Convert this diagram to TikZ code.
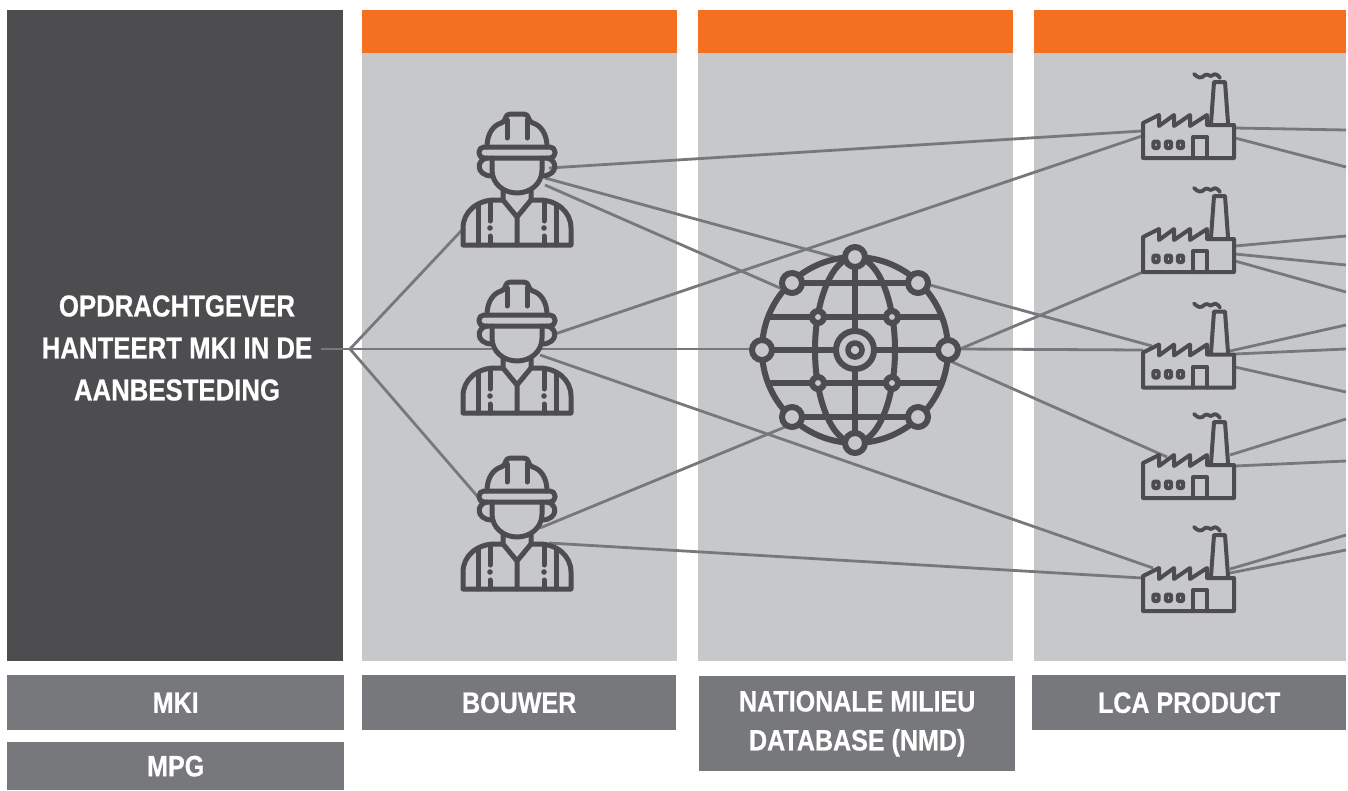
\documentclass[tikz,border=0pt]{standalone}
\usepackage{fontspec}
\setmainfont[FakeStretch=0.85,BoldFeatures={FakeBold=0.6}]{Liberation Sans}
\usepackage{xcolor}
\definecolor{darkpanel}{HTML}{4D4D4F}
\definecolor{lightpanel}{HTML}{C7C8CA}
\definecolor{labelgrey}{HTML}{77787B}
\definecolor{topbar}{HTML}{F37021}

\begin{document}
\begin{tikzpicture}[x=1pt, y=-1pt,
      panel/.style={fill=lightpanel, anchor=north west, inner sep=0pt, minimum width=315pt, minimum height=651pt},
      bar/.style={fill=topbar, anchor=north west, inner sep=0pt, minimum width=315pt, minimum height=43pt},
      tag/.style={fill=labelgrey, text=white, font=\bfseries\fontsize{29.5}{39}\selectfont, align=center, anchor=north west, inner sep=0pt, minimum width=314pt, minimum height=55pt},
      link/.style={draw=labelgrey, line width=2.8pt},
      icon/.style={draw=darkpanel, line width=5pt, line cap=round, line join=round},
      worker/.pic={
        \draw[icon, rounded corners=4pt] (-30,-33) .. controls (-30,-47) and (-23,-55) .. (-12,-58) -- (-11,-66) -- (11,-66) -- (12,-58) .. controls (23,-55) and (30,-47) .. (30,-33);
        \draw[icon] (-10,-60) -- (-10,-42) (10,-60) -- (10,-42);
        \draw[icon, rounded corners=5pt] (-38,-33) rectangle (38,-22);
        \draw[icon] (-30,-22) .. controls (-41,-20) and (-41,-5) .. (-26,-4);
        \draw[icon] (30,-22) .. controls (41,-20) and (41,-5) .. (26,-4);
        \draw[icon] (-25,-22) -- (-25,-10) .. controls (-25,4) and (-13,13) .. (0,13) .. controls (13,13) and (25,4) .. (25,-10) -- (25,-22);
        \draw[icon] (-14,10) -- (-14,20) -- (0,37) -- (14,20) -- (14,10) (0,37) -- (0,65);
        \draw[icon] (-14,20) -- (-22,20) .. controls (-40,20) and (-54,32) .. (-54,48) -- (-54,65) -- (54,65) -- (54,48) .. controls (54,32) and (40,20) .. (22,20) -- (14,20);
        \foreach \sx in {-1,1} {
          \draw[icon] (\sx*39,25) -- (\sx*39,65);
          \draw[icon] (\sx*27,23) -- (\sx*27,41) (\sx*27,56) -- (\sx*27,65);
          \fill[darkpanel] (\sx*27,48) circle (2.8pt);
        }
      },
      factory/.pic={
        \draw[icon, line width=4pt] (0,0) -- (0,-35) -- (16,-43) -- (16,-32) -- (31,-43) -- (31,-32) -- (47,-43) -- (47,-32) -- (64,-43) -- (64,-33) -- (91,-33) -- (91,0) -- cycle;
        \draw[icon, line width=4pt] (68,-35) -- (71,-76) -- (82,-76) -- (85,-35);
        \draw[icon, line width=4pt] (50,0) -- (50,-21) -- (64,-21) -- (64,0);
        \draw[icon, line width=3.8pt] (51,-84) .. controls (55,-80) and (58,-79) .. (62,-83) .. controls (65,-85) and (67,-80) .. (70,-83) .. controls (72,-85) and (75,-83) .. (77,-80);
        \foreach \wx in {13,25.5,37.5}
          \draw[icon, line width=4pt, rounded corners=1pt] (\wx-2.6,-16.5) rectangle (\wx+2.6,-10);
      },
      globe/.pic={
        \draw[icon, line width=6pt, fill=lightpanel] (0,0) circle (93pt);
        \draw[icon, line width=6pt] (0,0) ellipse (40pt and 93pt);
        \draw[icon, line width=6pt, line cap=butt] (-64,-67) -- (64,-67) (-64,67) -- (64,67) (-85,-33) -- (85,-33) (-85,33) -- (85,33) (-93,0) -- (93,0) (0,-93) -- (0,93);
        \draw[icon, line width=6pt, fill=lightpanel] (0,0) circle (19pt);
        \draw[icon, line width=5.6pt, fill=lightpanel] (0,0) circle (7pt);
        \foreach \nx/\ny in {0/-93, 0/93, -93/0, 93/0, -63/-67, 63/-67, -63/67, 63/67}
          \draw[icon, line width=6pt, fill=lightpanel] (\nx,\ny) circle (10pt);
        \foreach \nx/\ny in {-37/-33, 37/-33, -37/33, 37/33}
          \draw[icon, line width=6pt, fill=lightpanel] (\nx,\ny) circle (6pt);
      }]
    \useasboundingbox (0,0) rectangle (1348,790);

    % columns
    \node[panel, fill=darkpanel, minimum width=336pt] (client) at (7,10) {};
    \node[panel] (builder) at (362,10) {};
    \node[panel] (nmdcol) at (698,10) {};
    \node[panel, minimum width=312pt] (lcacol) at (1034,10) {};
    \node[bar] (barb) at (362,10) {};
    \node[bar] (barn) at (698,10) {};
    \node[bar, minimum width=312pt] (barl) at (1034,10) {};

    % captions
    \node[tag, minimum width=337pt] (mki) at (7,675) {MKI};
    \node[tag, minimum width=337pt, minimum height=48pt] (mpg) at (7,742) {MPG};
    \node[tag] (bouwer) at (362,675) {BOUWER};
    \node[tag, minimum width=316pt, minimum height=95pt] (nmd) at (699,676) {NATIONALE MILIEU\\DATABASE (NMD)};
    \node[tag] (lca) at (1032,675) {LCA PRODUCT};
    \node[text=white, font=\bfseries\fontsize{30.3}{42}\selectfont, align=center] (brief) at (177,348) {OPDRACHTGEVER\\HANTEERT MKI IN DE\\AANBESTEDING};

    % line ends
    \foreach \name/\pos in {start/{321,349}, hub/{350,349},
        wa/{462,230}, wb/{492,349}, wc/{478,497},
        wad/{549,168}, wae/{545,178}, waf/{545,185},
        wbd/{552,335}, wbe/{541,349}, wbf/{540,355},
        wcd/{540,528}, wce/{549,543},
        gl/{750,349}, gt/{853,262}, gul/{780,288}, gur/{930,285}, gll/{785,427}, gr/{960,349}, grb/{950,361},
        fad/{1142,131}, fae/{1142,136}, fbd/{1143,272}, fcd/{1152,346}, fce/{1143,350},
        fdd/{1167,457}, fed/{1153,568}, fee/{1142,578},
        fau/{1235,128}, fav/{1235,138}, fbu/{1235,246}, fbv/{1235,254}, fbw/{1235,261},
        fcu/{1230,351}, fcv/{1235,354}, fcw/{1235,367}, fdu/{1230,455}, fdv/{1235,466}, feu/{1230,569}, fev/{1230,573},
        xa/{1346,130}, xb/{1346,167}, xc/{1346,236}, xd/{1346,265}, xe/{1346,292}, xf/{1346,325},
        xg/{1346,349}, xh/{1346,392}, xi/{1346,419}, xj/{1346,461}, xk/{1346,535}, xl/{1346,550}}
      \coordinate (\name) at (\pos);

    % connectors
    \foreach \a/\b in {start/hub, hub/wa, hub/wb, hub/wc, wbe/gl,
        wad/fad, wae/gt, waf/gul, wbd/fae, wbf/fed, wcd/gll, wce/fee,
        gur/fcd, gr/fbd, gr/fce, grb/fdd,
        fau/xa, fav/xb, fbu/xc, fbv/xd, fbw/xe, fcu/xf, fcv/xg, fcw/xh, fdu/xi, fdv/xj, feu/xk, fev/xl}
      \draw[link] (\a) -- (\b);

    % icons
    \pic (w1) at (517,180) {worker};
    \pic (w2) at (517,348) {worker};
    \pic (w3) at (517,524) {worker};
    \pic (net) at (855,350) {globe};
    \foreach \n/\fy in {1/158, 2/272, 3/387.5, 4/498, 5/611}
      \pic (f\n) at (1143,\fy) {factory};
  \end{tikzpicture}
\end{document}
